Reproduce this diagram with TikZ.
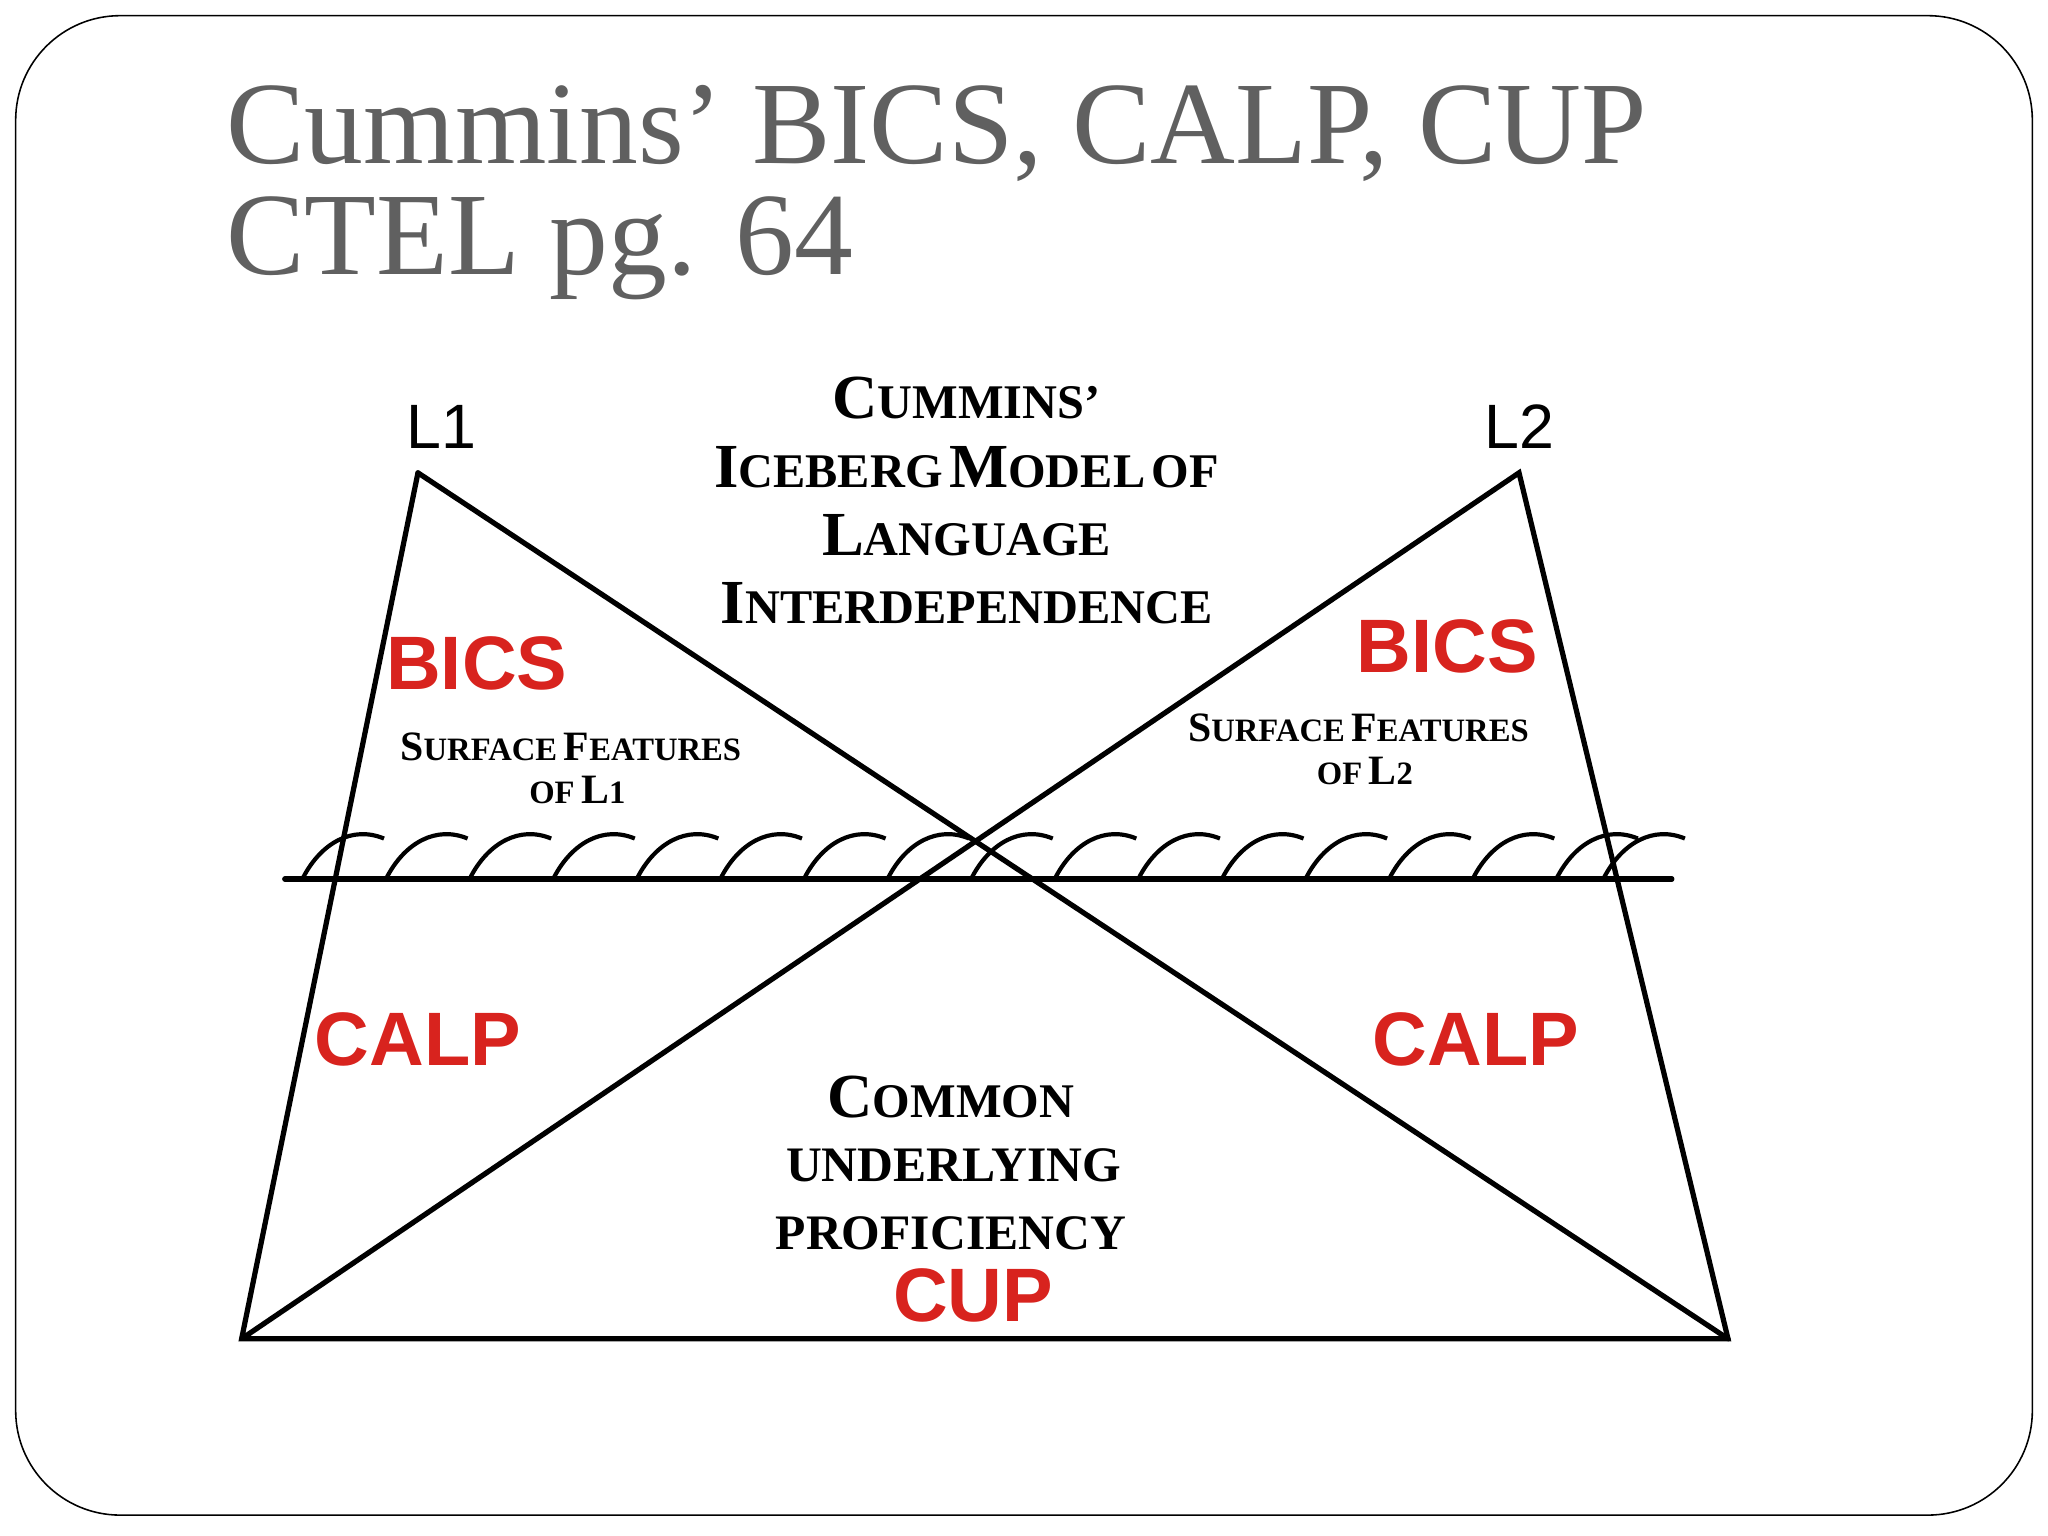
\documentclass[tikz,border=0pt]{standalone}
\usepackage{fontspec}
\setmainfont{Liberation Serif}
\setsansfont{Liberation Sans}
\definecolor{ttl}{HTML}{606060}
\definecolor{lab}{HTML}{D8231E}
\newcommand{\bscp}[2]{{\fontsize{24}{24}\selectfont #1}{\fontsize{18.5}{18.5}\selectfont #2}}
\newcommand{\sscp}[2]{{\fontsize{16}{16}\selectfont #1}{\fontsize{12.5}{12.5}\selectfont #2}}
\begin{document}
\begin{tikzpicture}[x=0.5pt,y=-0.5pt,
  edge/.style={line width=2pt,line cap=round},
  wave/.style={line width=1.6pt},
  redlab/.style={font=\sffamily\bfseries\fontsize{29}{29}\selectfont,text=lab,inner sep=0},
  lang/.style={font=\sffamily\fontsize{24}{24}\selectfont,inner sep=0},
  captxt/.style={font=\bfseries,inner sep=0,align=center}]
\useasboundingbox (0,0) rectangle (1568,1176);
\draw[line width=0.6pt,rounded corners=40] (12,12) rectangle (1556,1160);
\node[anchor=base west,text=ttl,font=\fontsize{45}{45}\selectfont,inner sep=0] (t1) at (173,125) {Cummins’ BICS, CALP, CUP};
\node[anchor=base west,text=ttl,font=\fontsize{45}{45}\selectfont,inner sep=0] (t2) at (173,210) {CTEL pg. 64};
\coordinate (A1) at (320,362);
\coordinate (A2) at (1163,362);
\coordinate (BL) at (185,1025);
\coordinate (BR) at (1323,1025);
\coordinate (W1) at (218,673);
\coordinate (W2) at (1280,673);
\draw[edge] (A1) -- (BL) -- (BR) -- (A2) -- (BL);
\draw[edge] (A1) -- (BR);
\draw[edge] (W1) -- (W2);
\foreach \x in {232,296,360,424,488,552,616,680,744,808,872,936,1000,1064,1128,1192} {
  \draw[wave] (\x,672) .. controls (\x+14,645) and (\x+38,632) .. (\x+62,642);
}
\draw[wave] (1228,672) .. controls (1242,645) and (1266,632) .. (1290,642);
\node[lang] (l1) at (338,327) {L1};
\node[lang] (l2) at (1163,327) {L2};
\node[captxt] (h1) at (740,305) {\bscp{C}{UMMINS’}};
\node[captxt] (h2) at (740,358) {\bscp{I}{CEBERG} \bscp{M}{ODEL} {\fontsize{18.5}{18.5}\selectfont OF}};
\node[captxt] (h3) at (740,410) {\bscp{L}{ANGUAGE}};
\node[captxt] (h4) at (740,462) {\bscp{I}{NTERDEPENDENCE}};
\node[redlab] (b1) at (365,508) {BICS};
\node[redlab] (b2) at (1108,495) {BICS};
\node[captxt] (s1) at (437,572) {\sscp{S}{URFACE} \sscp{F}{EATURES}};
\node[captxt] (s2) at (442,605) {{\fontsize{12.5}{12.5}\selectfont OF} \sscp{L}{1}};
\node[captxt] (s3) at (1040,557) {\sscp{S}{URFACE} \sscp{F}{EATURES}};
\node[captxt] (s4) at (1045,590) {{\fontsize{12.5}{12.5}\selectfont OF} \sscp{L}{2}};
\node[redlab] (c1) at (320,796) {CALP};
\node[redlab] (c2) at (1130,796) {CALP};
\node[captxt] (u1) at (728,840) {\bscp{C}{OMMON}};
\node[captxt] (u2) at (730,892) {\fontsize{19}{19}\selectfont UNDERLYING};
\node[captxt] (u3) at (728,944) {\fontsize{19}{19}\selectfont PROFICIENCY};
\node[redlab] (cup) at (745,992) {CUP};
\end{tikzpicture}
\end{document}
